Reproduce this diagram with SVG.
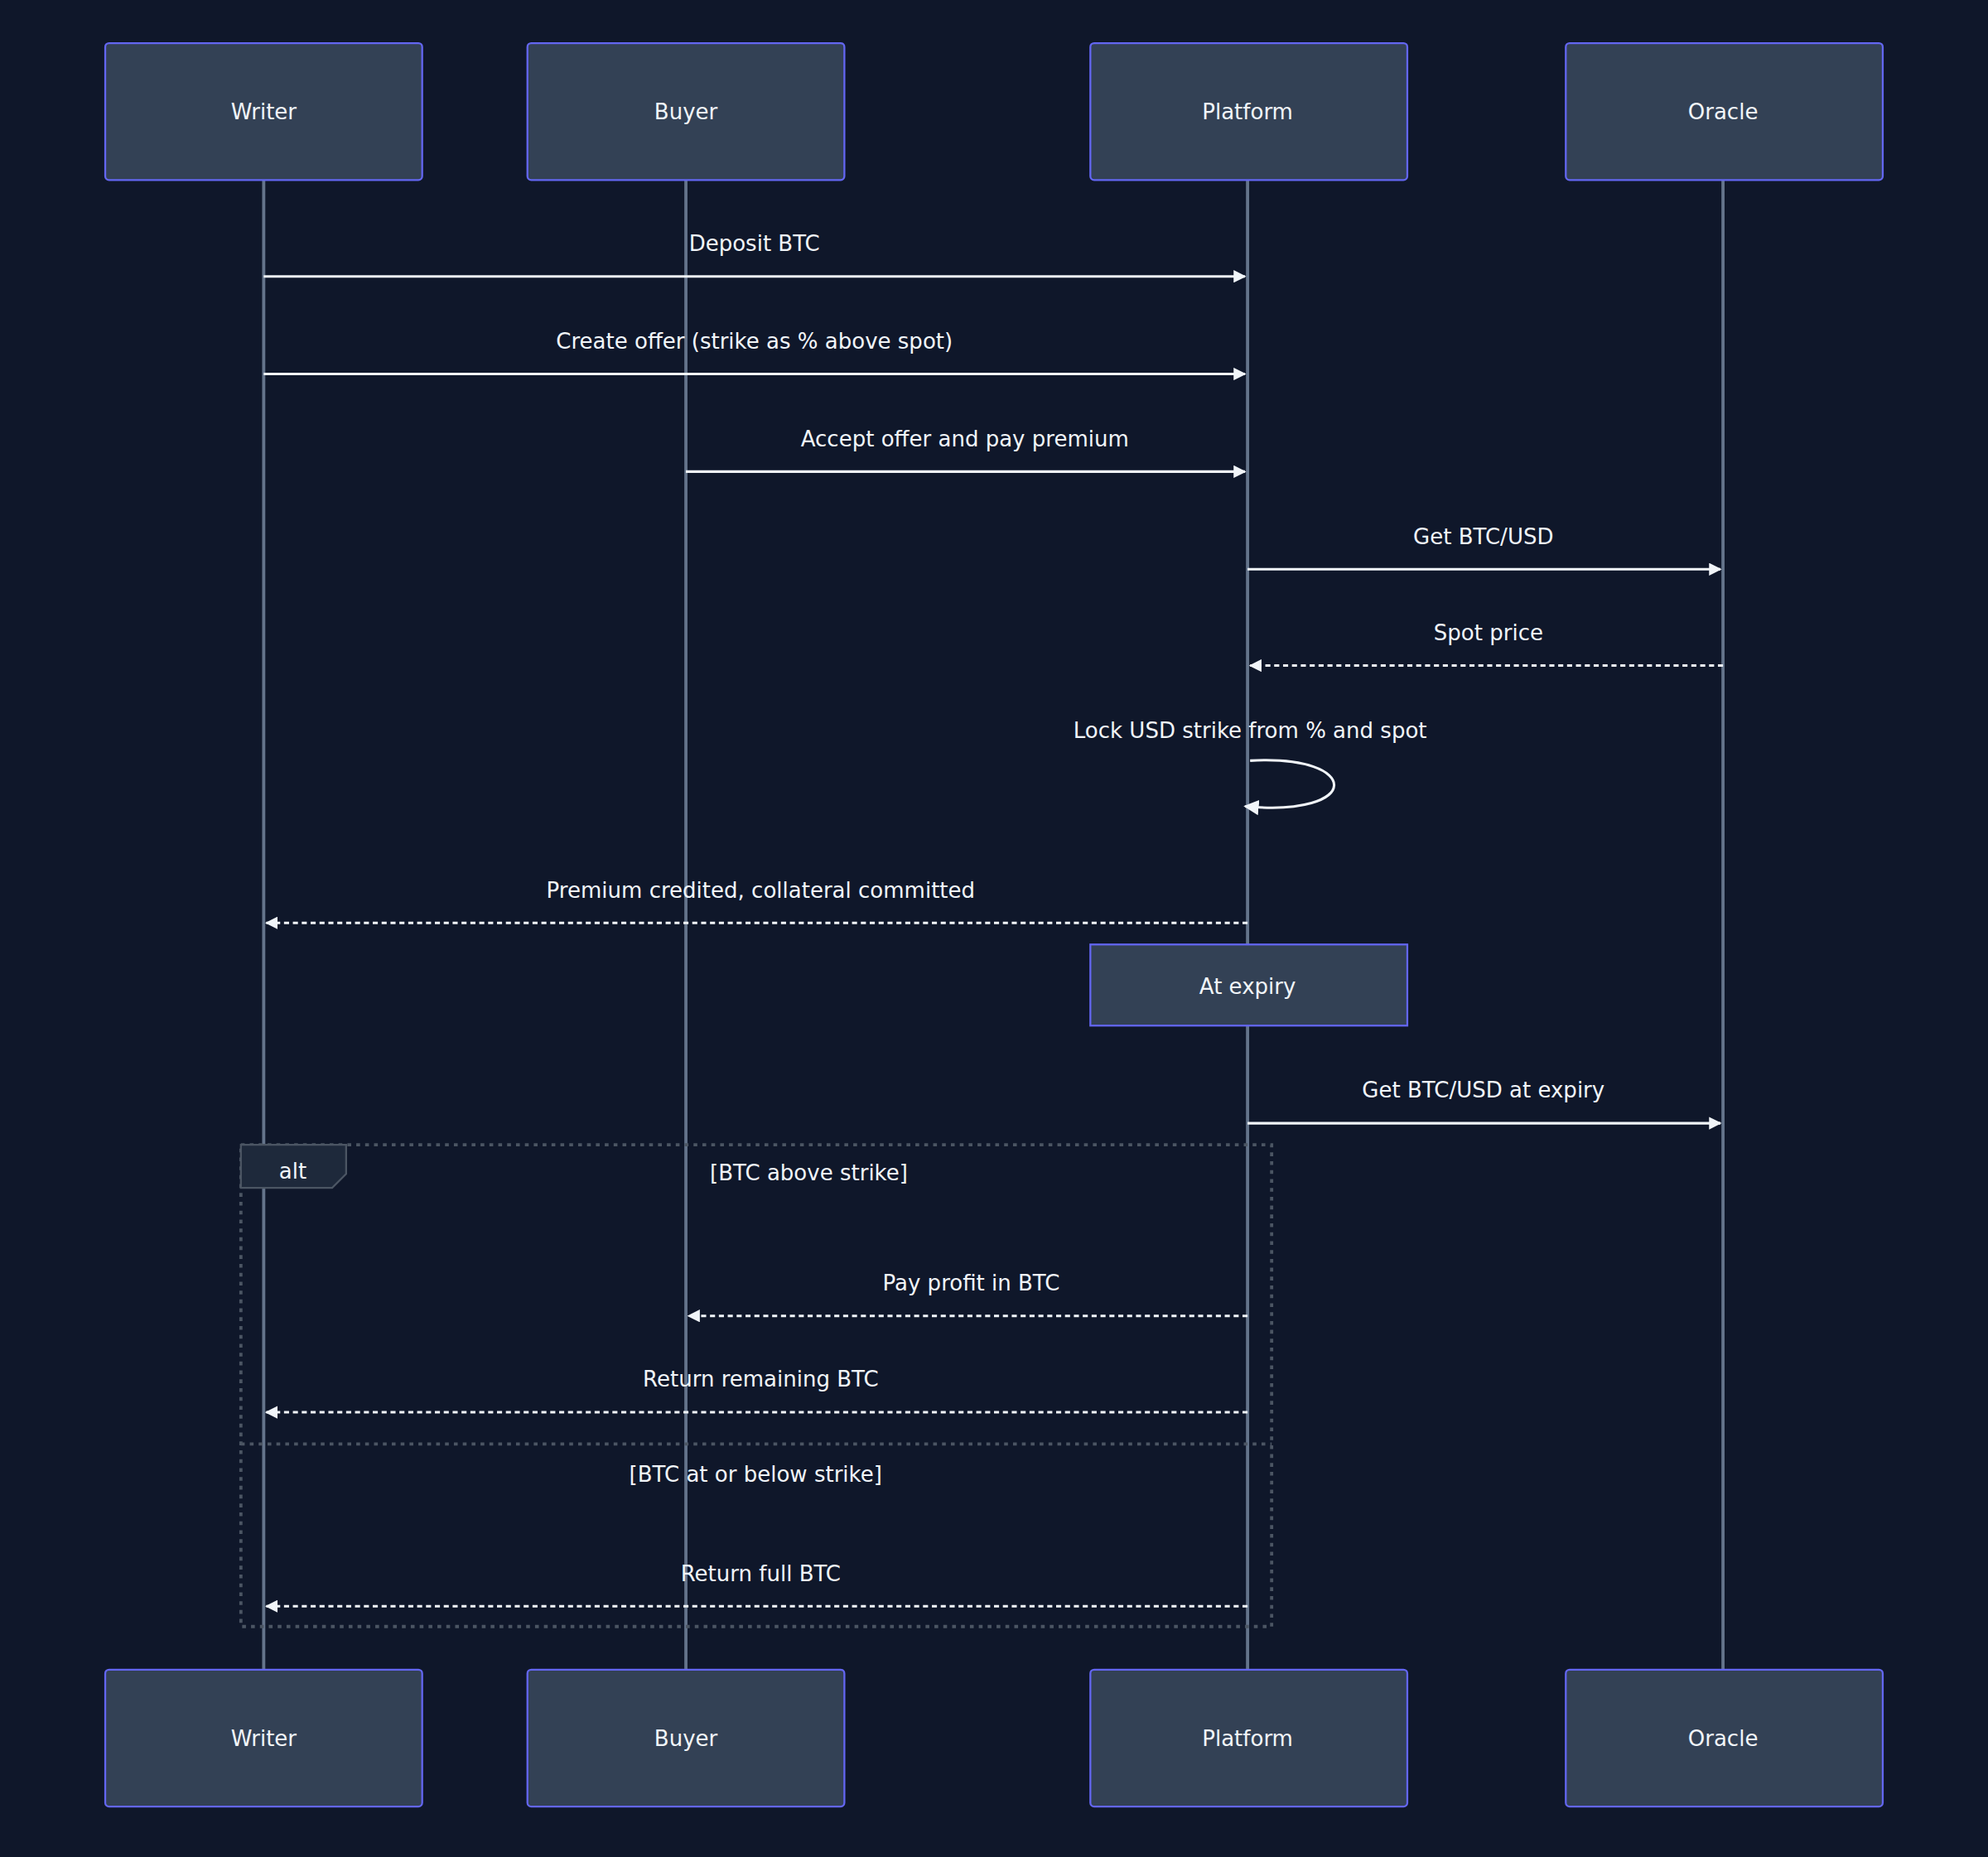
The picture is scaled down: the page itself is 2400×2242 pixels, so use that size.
<svg xmlns="http://www.w3.org/2000/svg" width="2400" height="2242" viewBox="0 0 2400 2242">
<style>
text{font-family:"DejaVu Sans","Liberation Sans",sans-serif;fill:#f1f5f9;font-size:17px;text-anchor:middle}
.actor{fill:#334155;stroke:#6366f1;stroke-width:1.5}
.life{stroke:#64748b;stroke-width:2.5}
.msg{stroke:#f1f5f9;stroke-width:2;fill:none}
.dash{stroke-dasharray:4 3}
.box{fill:none;stroke:#4b5563;stroke-width:2.5;stroke-dasharray:3 4}
</style>
<defs><marker id="ah" viewBox="0 0 10 10" refX="9" refY="5" markerWidth="10" markerHeight="10" markerUnits="userSpaceOnUse" orient="auto"><path d="M0,0 L10,5 L0,10 z" fill="#f1f5f9"/></marker>
<marker id="ahs" viewBox="0 0 10 10" refX="9" refY="5" markerWidth="12" markerHeight="12" markerUnits="userSpaceOnUse" orient="auto"><path d="M0,0 L10,5 L0,10 z" fill="#f1f5f9"/></marker></defs>
<rect width="2400" height="2242" fill="#0f172a"/>
<g transform="scale(1.5306)">
<g id="lifelines">
<line class="life" x1="208" y1="142" x2="208" y2="1317"/>
<line class="life" x1="541" y1="142" x2="541" y2="1317"/>
<line class="life" x1="984" y1="142" x2="984" y2="1317"/>
<line class="life" x1="1359" y1="142" x2="1359" y2="1317"/>
</g>
<g id="writer"><rect class="actor" x="83" y="34" width="250" height="108" rx="3"/><text x="208" y="94">Writer</text>
<rect class="actor" x="83" y="1317" width="250" height="108" rx="3"/><text x="208" y="1377">Writer</text></g>
<g id="buyer"><rect class="actor" x="416" y="34" width="250" height="108" rx="3"/><text x="541" y="94">Buyer</text>
<rect class="actor" x="416" y="1317" width="250" height="108" rx="3"/><text x="541" y="1377">Buyer</text></g>
<g id="platform"><rect class="actor" x="860" y="34" width="250" height="108" rx="3"/><text x="984" y="94">Platform</text>
<rect class="actor" x="860" y="1317" width="250" height="108" rx="3"/><text x="984" y="1377">Platform</text></g>
<g id="oracle"><rect class="actor" x="1235" y="34" width="250" height="108" rx="3"/><text x="1359" y="94">Oracle</text>
<rect class="actor" x="1235" y="1317" width="250" height="108" rx="3"/><text x="1359" y="1377">Oracle</text></g>
<g id="note"><rect class="actor" x="860" y="745" width="250" height="64"/><text x="984" y="784">At expiry</text></g>
<g id="alt">
<rect class="box" x="190" y="903" width="813" height="380"/>
<path d="M190,903 H273 V926 L262,937 H190 Z" fill="#1e293b" stroke="#4b5563" stroke-width="1.5"/>
<text x="231" y="930">alt</text>
<text x="638" y="931">[BTC above strike]</text>
<line class="box" x1="190" y1="1139" x2="1003" y2="1139"/>
<text x="596" y="1169">[BTC at or below strike]</text>
</g>
<g id="connectors">
<line class="msg" x1="208" y1="218" x2="982" y2="218" marker-end="url(#ah)"/><text x="595" y="198">Deposit BTC</text>
<line class="msg" x1="208" y1="295" x2="982" y2="295" marker-end="url(#ah)"/><text x="595" y="275">Create offer (strike as % above spot)</text>
<line class="msg" x1="541" y1="372" x2="982" y2="372" marker-end="url(#ah)"/><text x="761" y="352">Accept offer and pay premium</text>
<line class="msg" x1="984" y1="449" x2="1357" y2="449" marker-end="url(#ah)"/><text x="1170" y="429">Get BTC/USD</text>
<line class="msg dash" x1="1359" y1="525" x2="986" y2="525" marker-end="url(#ah)"/><text x="1174" y="505">Spot price</text>
<path class="msg" d="M986,600 C1075,595 1075,645 982,636" marker-end="url(#ahs)"/><text x="986" y="582">Lock USD strike from % and spot</text>
<line class="msg dash" x1="984" y1="728" x2="210" y2="728" marker-end="url(#ah)"/><text x="600" y="708">Premium credited, collateral committed</text>
<line class="msg" x1="984" y1="886" x2="1357" y2="886" marker-end="url(#ah)"/><text x="1170" y="866">Get BTC/USD at expiry</text>
<line class="msg dash" x1="984" y1="1038" x2="543" y2="1038" marker-end="url(#ah)"/><text x="766" y="1018">Pay profit in BTC</text>
<line class="msg dash" x1="984" y1="1114" x2="210" y2="1114" marker-end="url(#ah)"/><text x="600" y="1094">Return remaining BTC</text>
<line class="msg dash" x1="984" y1="1267" x2="210" y2="1267" marker-end="url(#ah)"/><text x="600" y="1247">Return full BTC</text>
</g>
</g>
</svg>
